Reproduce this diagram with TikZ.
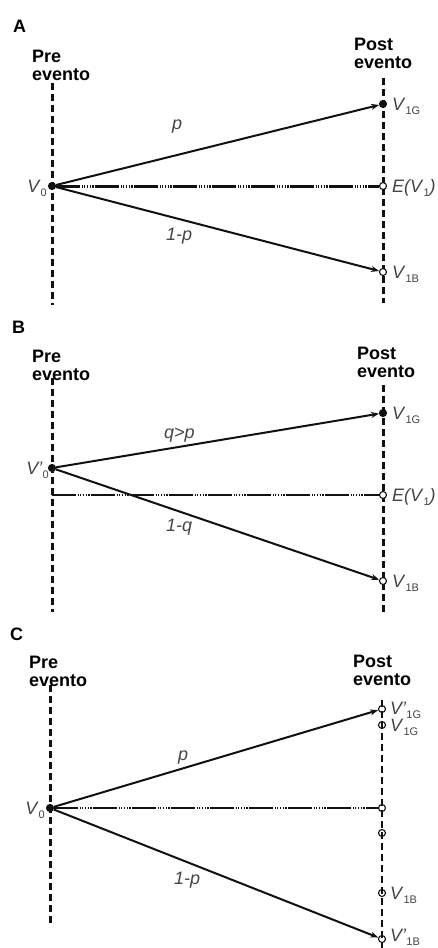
\documentclass[tikz,border=0pt]{standalone}
\usepackage{fontspec}
\setmainfont{Liberation Sans}
\usepackage{tikz}
\usetikzlibrary{arrows.meta}
\definecolor{labgray}{HTML}{454545}
\definecolor{ink}{HTML}{111111}
\newcommand{\vsub}[1]{\raisebox{-4pt}{\fontsize{11}{11}\selectfont #1}}

\begin{document}
\begin{tikzpicture}[x=1pt,y=-1pt,
  axis/.style={ink,line width=3pt,dash pattern=on 7pt off 4pt},
  evline/.style={ink,line width=#1,dash pattern=on 24pt off 1.5pt on 1.2pt off 1.5pt on 1.2pt off 1.5pt on 1.2pt off 1.5pt on 1.2pt off 1.5pt on 1.2pt off 1.5pt},
  pt/.style={circle,draw=ink,line width=1.1pt,inner sep=0pt,minimum size=7pt},
  ptfull/.style={pt,fill=ink},
  arr/.style={ink,-{Stealth[length=8pt,width=6pt]},line width=2pt},
  vlab/.style={anchor=base west,inner sep=0pt,text=labgray,font=\fontsize{18}{20}\selectfont},
  plab/.style={anchor=base west,inner sep=0pt,text=labgray,font=\itshape\fontsize{18}{20}\selectfont},
  head/.style={anchor=north west,inner sep=0pt,align=left,font=\bfseries\fontsize{18}{18}\selectfont},
  panel/.style={anchor=base west,inner sep=0pt,font=\bfseries\fontsize{18}{20}\selectfont}]
\useasboundingbox[fill=white] (0,0) rectangle (437,948);

% panel A
\node[panel] (capA) at (13,32) {A};
\node[head] (preA) at (32,50) {Pre\\evento};
\node[head] (postA) at (354,38) {Post\\evento};
\draw[axis] (52,83) -- (52,305);
\draw[axis] (383,78) -- (383,303);
\node[ptfull] (a0) at (52,186) {};
\node[ptfull] (a1g) at (383,104) {};
\node[pt,fill=white] (aev) at (383,186) {};
\node[pt,fill=white] (a1b) at (383,272) {};
\draw[evline=3pt] (a0) -- (aev);
\draw[arr] (a0) -- (a1g);
\draw[arr] (a0) -- (a1b);
\node[vlab,anchor=base east] (la0) at (47,192) {\textit{V}\vsub{0}};
\node[vlab] (la1g) at (392,110) {\textit{V}\vsub{1G}};
\node[vlab] (laev) at (392,192) {\textit{E(V}\vsub{1}\textit{)}};
\node[vlab] (la1b) at (392,278) {\textit{V}\vsub{1B}};
\node[plab] (lap) at (172,129) {p};
\node[plab] (laq) at (166,240) {1-p};

% panel B
\node[panel] (capB) at (12,333) {B};
\node[head] (preB) at (32,350) {Pre\\evento};
\node[head] (postB) at (357,347) {Post\\evento};
\draw[axis] (52,378) -- (52,612);
\draw[axis] (383,385) -- (383,612);
\node[ptfull] (b0) at (52,468) {};
\node[ptfull] (b1g) at (383,413) {};
\node[pt,fill=white] (bev) at (383,495) {};
\node[pt,fill=white] (b1b) at (383,581) {};
\coordinate (bst) at (52,495);
\draw[evline=1.3pt] (bst) -- (bev);
\draw[arr] (b0) -- (b1g);
\draw[arr] (b0) -- (b1b);
\node[vlab,anchor=base east] (lb0) at (49,474) {\textit{V'}\vsub{0}};
\node[vlab] (lb1g) at (392,419) {\textit{V}\vsub{1G}};
\node[vlab] (lbev) at (392,501) {\textit{E(V}\vsub{1}\textit{)}};
\node[vlab] (lb1b) at (392,587) {\textit{V}\vsub{1B}};
\node[plab] (lbp) at (164,438) {q>p};
\node[plab] (lbq) at (166,531) {1-q};

% panel C
\node[panel] (capC) at (10,640) {C};
\node[head] (preC) at (29,656) {Pre\\evento};
\node[head] (postC) at (353,655) {Post\\evento};
\draw[axis] (50,685) -- (50,925);
\draw[axis,line width=2pt] (382,700) -- (382,950);
\node[ptfull] (c0) at (50,808) {};
\node[pt] (c1gp) at (382,709) {};
\node[pt] (c1g) at (382,725) {};
\node[pt] (cev) at (382,808) {};
\node[pt] (cmid) at (382,833) {};
\node[pt] (c1b) at (382,893) {};
\node[pt] (c1bp) at (382,939) {};
\draw[evline=2pt] (c0) -- (cev);
\draw[arr] (c0) -- (c1gp);
\draw[arr] (c0) -- (c1bp);
\node[vlab,anchor=base east] (lc0) at (45,814) {\textit{V}\vsub{0}};
\node[vlab] (lc1gp) at (390,714) {\textit{V'}\vsub{1G}};
\node[vlab] (lc1g) at (390,731) {\textit{V}\vsub{1G}};
\node[vlab] (lc1b) at (390,899) {\textit{V}\vsub{1B}};
\node[vlab] (lc1bp) at (390,941) {\textit{V'}\vsub{1B}};
\node[plab] (lcp) at (178,760) {p};
\node[plab] (lcq) at (174,884) {1-p};
\end{tikzpicture}
\end{document}
